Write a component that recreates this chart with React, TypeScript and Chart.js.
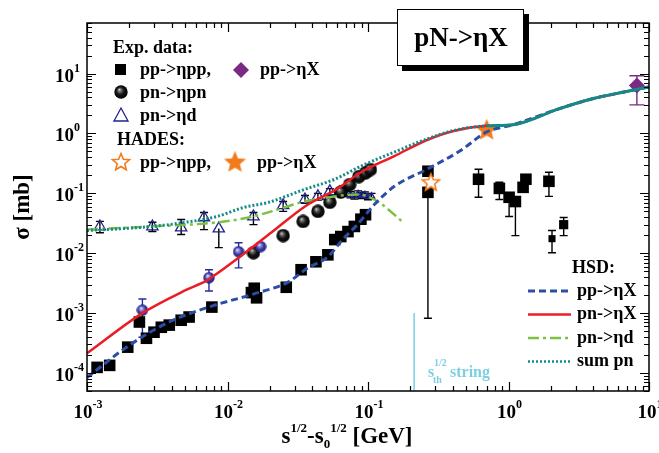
import React, { useEffect, useRef } from 'react';
import { Chart, registerables } from 'chart.js';
Chart.register(...registerables);

const X_MIN = 1e-3;
const X_MAX = 10;
const Y_MIN = 5e-5;
const Y_MAX = 70;

// ---- Experimental data ----
// pp -> eta pp (black squares)
const ppEtaPP_x = [1.18e-3, 1.45e-3, 1.95e-3, 2.36e-3, 2.65e-3, 3.0e-3, 3.38e-3, 3.85e-3, 4.68e-3, 5.33e-3, 7.74e-3, 1.48e-2, 1.55e-2, 1.61e-2, 2.62e-2, 3.34e-2, 4.26e-2, 5.18e-2, 5.8e-2, 6.4e-2, 7.2e-2, 8.0e-2, 8.9e-2, 9.6e-2, 0.267, 0.267, 0.612, 0.861, 1.01, 1.12, 1.27, 1.33, 1.94, 2.04, 2.47];
const ppEtaPP_y = [1.24e-4, 1.34e-4, 2.7e-4, 7.1e-4, 3.8e-4, 4.8e-4, 5.8e-4, 6.3e-4, 7.6e-4, 8.6e-4, 1.26e-3, 2.2e-3, 2.6e-3, 1.8e-3, 2.7e-3, 5.3e-3, 7.2e-3, 9.4e-3, 1.69e-2, 1.9e-2, 2.3e-2, 2.8e-2, 3.7e-2, 4.4e-2, 0.234, 0.104, 0.172, 0.121, 0.086, 0.073, 0.126, 0.172, 0.159, 0.0175, 0.030];
const ppEtaPP_lo = [null, null, null, null, null, null, null, null, null, null, null, null, null, null, null, null, null, null, null, null, null, null, null, null, null, 8.2e-4, 0.086, 0.079, 0.041, 0.0197, null, null, 0.089, 0.0102, 0.0197];
const ppEtaPP_hi = [null, null, null, null, null, null, null, null, null, null, null, null, null, null, null, null, null, null, null, null, null, null, null, null, null, null, 0.253, 0.153, null, null, null, null, 0.225, 0.024, 0.0395];

// pn -> eta pn (black balls)
const pnEtaPN_x = [1.53e-2, 2.49e-2, 3.45e-2, 4.4e-2, 5.35e-2, 6.4e-2, 7.4e-2, 8.6e-2, 9.6e-2, 0.104];
const pnEtaPN_y = [1.02e-2, 1.97e-2, 3.4e-2, 5.0e-2, 7.1e-2, 0.105, 0.14, 0.19, 0.22, 0.25];

// pn -> eta pn (blue balls, with errors)
const pnEtaPN2_x = [2.48e-3, 7.38e-3, 1.2e-2, 1.72e-2];
const pnEtaPN2_y = [1.12e-3, 3.9e-3, 1.06e-2, 1.29e-2];
const pnEtaPN2_lo = [3.95e-4, 2.34e-3, 5.7e-3, 1.15e-2];
const pnEtaPN2_hi = [1.72e-3, 5.3e-3, 1.5e-2, 1.45e-2];

// pn -> eta d (open triangles)
const pnEtaD_x = [1.235e-3, 2.92e-3, 4.68e-3, 6.8e-3, 8.67e-3, 1.53e-2, 2.49e-2, 3.56e-2, 4.4e-2, 5.35e-2, 6.3e-2, 7.0e-2, 7.5e-2, 8.0e-2, 8.5e-2, 9.0e-2, 9.5e-2, 0.1, 0.106];
const pnEtaD_y = [2.79e-2, 2.79e-2, 2.68e-2, 3.95e-2, 2.58e-2, 4.1e-2, 6.3e-2, 7.9e-2, 8.9e-2, 0.108, 0.104, 0.1, 0.095, 0.09, 0.098, 0.092, 0.095, 0.088, 0.09];
const pnEtaD_lo = [2.2e-2, 2.3e-2, 2.05e-2, 2.48e-2, 1.24e-2, 3.0e-2, 5.0e-2, 6.8e-2, 7.7e-2, 0.094, 0.092, 0.088, 0.084, 0.08, 0.087, 0.082, 0.085, 0.078, 0.08];
const pnEtaD_hi = [3.4e-2, 3.3e-2, 3.66e-2, 4.8e-2, null, 4.8e-2, 7.3e-2, 9.2e-2, 0.1, 0.12, 0.116, 0.112, 0.107, 0.1, 0.11, 0.103, 0.106, 0.099, 0.1];

// pp -> eta X (diamond)
const ppEtaX_x = [8.2];
const ppEtaX_y = [6.3];
const ppEtaX_lo = [3.0];
const ppEtaX_hi = [9.2];

// HADES
const hadesPP_x = [0.28];
const hadesPP_y = [0.153];
const hadesX_x = [0.70];
const hadesX_y = [1.15];

// ---- HSD curves ----
const hsdPP_x = [1e-3, 2.0e-3, 3.85e-3, 7.74e-3, 1.53e-2, 2.7e-2, 3.74e-2, 5.18e-2, 6.6e-2, 8.4e-2, 0.111, 0.154, 0.263, 0.45, 0.70, 1.08, 2.28, 3.96, 6.78, 10];
const hsdPP_y = [8.4e-5, 2.9e-4, 7.1e-4, 1.31e-3, 2.08e-3, 3.3e-3, 5.7e-3, 8.7e-3, 1.69e-2, 3.0e-2, 6.5e-2, 0.131, 0.253, 0.508, 1.06, 1.40, 2.58, 3.80, 4.98, 6.0];

const hsdPN_x = [1e-3, 2.48e-3, 5.08e-3, 7.03e-3, 1.2e-2, 2.05e-2, 3.56e-2, 6.1e-2, 8.9e-2, 0.154, 0.263, 0.407, 0.70, 1.08, 2.28, 3.96, 6.78, 10];
const hsdPN_y = [2.13e-4, 1.0e-3, 2.44e-3, 3.45e-3, 8.4e-3, 2.21e-2, 6.05e-2, 0.121, 0.225, 0.419, 0.778, 1.10, 1.34, 1.40, 2.58, 3.80, 4.98, 6.0];

const hsdPND_x = [1e-3, 2.78e-3, 8.26e-3, 1.41e-2, 2.30e-2, 3.34e-2, 5.8e-2, 8.4e-2, 0.117, 0.175];
const hsdPND_y = [2.48e-2, 2.79e-2, 3.26e-2, 3.95e-2, 5.4e-2, 7.06e-2, 8.9e-2, 9.6e-2, 7.3e-2, 3.4e-2];

const hsdSum_x = [1e-3, 2.87e-3, 4.91e-3, 8.4e-3, 1.30e-2, 1.95e-2, 3.56e-2, 5.8e-2, 8.9e-2, 0.154, 0.263, 0.407, 0.70, 1.08, 2.28, 3.96, 6.78, 10];
const hsdSum_y = [2.39e-2, 2.79e-2, 3.26e-2, 4.1e-2, 5.8e-2, 7.06e-2, 0.117, 0.172, 0.284, 0.489, 0.81, 1.12, 1.34, 1.40, 2.58, 3.80, 4.98, 6.0];

// string threshold
const sthString_x = [0.213, 0.213];
const sthString_y = [1e-3, 5e-5];

// tick labels
const xTickExp = [-3, -2, -1, 0, 1];
const yTickExp = [-4, -3, -2, -1, 0, 1];

const pts = (xs: number[], ys: number[]) => xs.map((x, i) => ({ x, y: ys[i] }));

const FONT = "'Liberation Serif','Times New Roman',serif";
const C_BLUE = '#2d4ea6';
const C_RED = '#ec1c24';
const C_GREEN = '#7cc242';
const C_TEAL = '#138a8a';
const C_NAVY = '#1f2290';
const C_PURPLE = '#7a2a84';
const C_ORANGE = '#f27b1c';
const C_STH = '#7ccfe2';

const DASH_PP = [7, 4];
const DASH_PND = [11, 4, 3, 4];
const DASH_SUM = [2, 2];

function makeBall(d: number, stops: [number, string][]) {
  const c = document.createElement('canvas');
  c.width = d; c.height = d;
  const g = c.getContext('2d')!;
  const r = d / 2;
  const grad = g.createRadialGradient(r * 0.75, r * 0.65, 0, r, r, r);
  stops.forEach(([o, col]) => grad.addColorStop(o, col));
  g.fillStyle = grad;
  g.beginPath();
  g.arc(r, r, r - 0.3, 0, Math.PI * 2);
  g.fill();
  return c;
}

function makeStar(R: number, fill: string, stroke: string) {
  const c = document.createElement('canvas');
  const d = Math.ceil(2 * R + 4);
  c.width = d; c.height = d;
  const g = c.getContext('2d')!;
  const cx = d / 2, cy = d / 2 + 0.5;
  g.beginPath();
  for (let i = 0; i < 10; i++) {
    const a = -Math.PI / 2 + (i * Math.PI) / 5;
    const rr = i % 2 ? R * 0.45 : R;
    const px = cx + rr * Math.cos(a), py = cy + rr * Math.sin(a);
    if (i === 0) g.moveTo(px, py); else g.lineTo(px, py);
  }
  g.closePath();
  g.fillStyle = fill;
  g.fill();
  g.strokeStyle = stroke;
  g.lineWidth = 1.6;
  g.lineJoin = 'miter';
  g.stroke();
  return c;
}

type Part = { t: string; size: number; dy: number; color?: string };
function richWidth(ctx: CanvasRenderingContext2D, parts: Part[]) {
  let w = 0;
  parts.forEach(p => { ctx.font = `bold ${p.size}px ${FONT}`; w += ctx.measureText(p.t).width; });
  return w;
}
function drawRich(ctx: CanvasRenderingContext2D, x: number, y: number, parts: Part[], color: string) {
  let cx = x;
  ctx.textAlign = 'left';
  ctx.textBaseline = 'alphabetic';
  parts.forEach(p => {
    ctx.font = `bold ${p.size}px ${FONT}`;
    ctx.fillStyle = p.color || color;
    ctx.fillText(p.t, cx, y + p.dy);
    cx += ctx.measureText(p.t).width;
  });
}

export default function App() {
  const ref = useRef<HTMLCanvasElement>(null);
  useEffect(() => {
    document.body.style.margin = '0';
    const blackBall = makeBall(14, [[0, '#e0e0e0'], [0.22, '#707070'], [0.55, '#151515'], [1, '#000']]);
    const blueBall = makeBall(12, [[0, '#f4f4ff'], [0.25, '#9a9ae0'], [0.6, '#3a3aa8'], [1, '#1c1c70']]);
    const starOpen = makeStar(9, '#ffffff', C_ORANGE);
    const starFull = makeStar(9.5, C_ORANGE, C_ORANGE);

    const decor = {
      id: 'decor',
      beforeDatasetsDraw(chart: any) {
        const ctx = chart.ctx as CanvasRenderingContext2D;
        const xs = chart.scales.x, ys = chart.scales.y;
        chart.data.datasets.forEach((ds: any) => {
          if (!ds.errLo) return;
          ctx.save();
          ctx.strokeStyle = ds.errColor;
          ctx.lineWidth = 1.4;
          ds.data.forEach((p: any, j: number) => {
            const px = xs.getPixelForValue(p.x);
            const pc = ys.getPixelForValue(p.y);
            [ds.errLo[j], ds.errHi[j]].forEach((v: number | null) => {
              if (v == null) return;
              const py = ys.getPixelForValue(v);
              ctx.beginPath();
              ctx.moveTo(px, pc); ctx.lineTo(px, py);
              ctx.moveTo(px - ds.capW, py); ctx.lineTo(px + ds.capW, py);
              ctx.stroke();
            });
          });
          ctx.restore();
        });
      },
      afterDraw(chart: any) {
        const ctx = chart.ctx as CanvasRenderingContext2D;
        const xs = chart.scales.x, ys = chart.scales.y;
        const a = chart.chartArea;
        ctx.save();
        // frame
        ctx.strokeStyle = '#000';
        ctx.lineWidth = 1.5;
        ctx.strokeRect(a.left, a.top, a.right - a.left, a.bottom - a.top);
        // ticks
        ctx.lineWidth = 1.2;
        ctx.beginPath();
        for (let d = -3; d <= 1; d++) {
          for (let m = 1; m <= 9; m++) {
            const v = m * Math.pow(10, d);
            if (v < X_MIN * 0.999 || v > X_MAX * 1.001) continue;
            const px = Math.round(xs.getPixelForValue(v)) + 0.5;
            const L = m === 1 ? 9 : 5;
            ctx.moveTo(px, a.bottom); ctx.lineTo(px, a.bottom - L);
            ctx.moveTo(px, a.top); ctx.lineTo(px, a.top + L);
          }
        }
        for (let d = -5; d <= 1; d++) {
          for (let m = 1; m <= 9; m++) {
            const v = m * Math.pow(10, d);
            if (v < Y_MIN * 0.999 || v > Y_MAX * 1.001) continue;
            const py = Math.round(ys.getPixelForValue(v)) + 0.5;
            const L = m === 1 ? 9 : 5;
            ctx.moveTo(a.left, py); ctx.lineTo(a.left + L, py);
            ctx.moveTo(a.right, py); ctx.lineTo(a.right - L, py);
          }
        }
        ctx.stroke();

        // tick labels
        xTickExp.forEach(e => {
          const px = xs.getPixelForValue(Math.pow(10, e));
          const parts: Part[] = [{ t: '10', size: 19, dy: 0 }, { t: String(e), size: 12, dy: -10 }];
          const w = richWidth(ctx, parts);
          drawRich(ctx, px - w / 2 + 1, 418, parts, '#000');
        });
        yTickExp.forEach(e => {
          const py = ys.getPixelForValue(Math.pow(10, e));
          ctx.font = `bold 19px ${FONT}`;
          const w10 = ctx.measureText('10').width;
          drawRich(ctx, 74 - w10, py + 8, [{ t: '10', size: 19, dy: 0 }, { t: String(e), size: 12, dy: -10 }], '#000');
        });

        // y title
        ctx.save();
        ctx.translate(23, 207);
        ctx.rotate(-Math.PI / 2);
        ctx.font = `bold 23px ${FONT}`;
        ctx.fillStyle = '#000';
        ctx.textAlign = 'center';
        ctx.textBaseline = 'middle';
        ctx.fillText('σ [mb]', 0, 0);
        ctx.restore();

        // x title
        const xt: Part[] = [
          { t: 's', size: 23, dy: 0 }, { t: '1/2', size: 13, dy: -11 }, { t: '-s', size: 23, dy: 0 },
          { t: '0', size: 13, dy: 5 }, { t: '1/2', size: 13, dy: -11 }, { t: ' [GeV]', size: 23, dy: 0 },
        ];
        const xw = richWidth(ctx, xt);
        drawRich(ctx, 347 - xw / 2, 443, xt, '#000');

        // s_th label
        drawRich(ctx, 428, 377, [{ t: 's', size: 16, dy: 0 }], C_STH);
        drawRich(ctx, 433, 383, [{ t: 'th', size: 10, dy: 0 }], C_STH);
        drawRich(ctx, 434, 366, [{ t: '1/2', size: 10, dy: 0 }], C_STH);
        drawRich(ctx, 450, 377, [{ t: 'string', size: 16, dy: 0 }], C_STH);

        // title box
        ctx.fillStyle = '#000';
        ctx.fillRect(402, 14, 127, 57);
        ctx.fillStyle = '#fff';
        ctx.fillRect(397, 9, 127, 57);
        ctx.strokeStyle = '#000';
        ctx.lineWidth = 1;
        ctx.strokeRect(397.5, 9.5, 126, 56);
        ctx.fillStyle = '#000';
        ctx.font = `bold 27px ${FONT}`;
        ctx.textAlign = 'center';
        ctx.textBaseline = 'middle';
        ctx.fillText('pN->ηX', 461, 39);

        // experimental legend
        const txt = (s: string, x: number, y: number) => {
          ctx.font = `bold 18px ${FONT}`;
          ctx.fillStyle = '#000';
          ctx.textAlign = 'left';
          ctx.textBaseline = 'middle';
          ctx.fillText(s, x, y);
        };
        txt('Exp. data:', 113, 48);
        ctx.fillStyle = '#000';
        ctx.fillRect(115, 64, 11, 11);
        txt('pp->ηpp,', 140, 70);
        ctx.fillStyle = C_PURPLE;
        ctx.beginPath();
        ctx.moveTo(241, 62); ctx.lineTo(249, 70); ctx.lineTo(241, 78); ctx.lineTo(233, 70); ctx.closePath();
        ctx.fill();
        txt('pp->ηX', 260, 70);
        ctx.drawImage(blackBall, 121 - 7, 92 - 7);
        txt('pn->ηpn', 140, 93);
        ctx.strokeStyle = C_NAVY;
        ctx.lineWidth = 1.3;
        ctx.beginPath();
        ctx.moveTo(121, 108); ctx.lineTo(128, 121); ctx.lineTo(114, 121); ctx.closePath();
        ctx.stroke();
        txt('pn->ηd', 140, 116);
        txt('HADES:', 117, 140);
        ctx.drawImage(starOpen, 121 - starOpen.width / 2, 162 - starOpen.height / 2);
        txt('pp->ηpp,', 140, 163);
        ctx.drawImage(starFull, 235 - starFull.width / 2, 162 - starFull.height / 2);
        txt('pp->ηX', 257, 163);

        // HSD legend
        txt('HSD:', 572, 268);
        const hsd: [string, string, number[], number][] = [
          ['pp->ηX', C_BLUE, DASH_PP, 3],
          ['pn->ηX', C_RED, [], 2.5],
          ['pn->ηd', C_GREEN, DASH_PND, 2.5],
          ['sum pn', C_TEAL, DASH_SUM, 2.5],
        ];
        hsd.forEach(([lab, col, dash, lw], i) => {
          const y = 291 + i * 23.5;
          ctx.strokeStyle = col;
          ctx.lineWidth = lw;
          ctx.setLineDash(dash);
          ctx.beginPath();
          ctx.moveTo(528, y); ctx.lineTo(571, y);
          ctx.stroke();
          ctx.setLineDash([]);
          txt(lab, 577, y);
        });
        ctx.restore();
      },
    };

    const curve = (label: string, xs: number[], ys: number[], color: string, dash: number[], width: number) => ({
      label, data: pts(xs, ys), showLine: true, borderColor: color, borderWidth: width, borderDash: dash,
      pointRadius: 0, fill: false, cubicInterpolationMode: 'monotone' as const,
    });

    const sumCurve: any = curve('sum pn', hsdSum_x, hsdSum_y, C_TEAL, DASH_SUM, 3);
    sumCurve.segment = { borderDash: (c: any) => (c.p0.parsed.x >= 0.69 ? [] : DASH_SUM) };

    const chart = new Chart(ref.current!, {
      type: 'scatter',
      data: {
        datasets: [
          sumCurve,
          curve('pn->ηX', hsdPN_x, hsdPN_y, C_RED, [], 2.5),
          curve('pp->ηX', hsdPP_x, hsdPP_y, C_BLUE, DASH_PP, 3),
          curve('pn->ηd', hsdPND_x, hsdPND_y, C_GREEN, DASH_PND, 2.5),
          { label: 'sth', data: pts(sthString_x, sthString_y), showLine: true, borderColor: C_STH, borderWidth: 1.5, pointRadius: 0 },
          { label: 'HADES pp->ηX', data: pts(hadesX_x, hadesX_y), pointStyle: starFull as any, pointRadius: 9 },
          { label: 'HADES pp->ηpp', data: pts(hadesPP_x, hadesPP_y), pointStyle: starOpen as any, pointRadius: 9 },
          { label: 'pp->ηX', data: pts(ppEtaX_x, ppEtaX_y), pointStyle: 'rectRot', pointRadius: 8, backgroundColor: C_PURPLE, borderColor: C_PURPLE, borderWidth: 0,
            errLo: ppEtaX_lo, errHi: ppEtaX_hi, errColor: C_PURPLE, capW: 7.5 } as any,
          { label: 'pn->ηpn (b)', data: pts(pnEtaPN2_x, pnEtaPN2_y), pointStyle: blueBall as any, pointRadius: 6,
            errLo: pnEtaPN2_lo, errHi: pnEtaPN2_hi, errColor: '#2a2aa0', capW: 4 } as any,
          { label: 'pn->ηpn', data: pts(pnEtaPN_x, pnEtaPN_y), pointStyle: blackBall as any, pointRadius: 7 },
          { label: 'pn->ηd', data: pts(pnEtaD_x, pnEtaD_y), pointStyle: 'triangle',
            pointRadius: (c: any) => (c.raw && c.raw.x > 0.065 ? 3.5 : 6.5),
            backgroundColor: 'rgba(255,255,255,0)', borderColor: C_NAVY, borderWidth: 1.3,
            errLo: pnEtaD_lo, errHi: pnEtaD_hi, errColor: '#000', capW: 4 } as any,
          { label: 'pp->ηpp', data: pts(ppEtaPP_x, ppEtaPP_y), pointStyle: 'rect',
            pointRadius: (c: any) => (c.raw && c.raw.x > 2.2 ? 6.5 : c.raw && c.raw.x > 2 ? 5 : 8.2),
            backgroundColor: '#000', borderColor: '#000', borderWidth: 0,
            errLo: ppEtaPP_lo, errHi: ppEtaPP_hi, errColor: '#000', capW: 4 } as any,
        ],
      },
      options: {
        responsive: false,
        animation: false,
        devicePixelRatio: 1,
        layout: { padding: { left: 87, right: 4, top: 23, bottom: 62 } },
        plugins: { legend: { display: false }, tooltip: { enabled: false } },
        scales: {
          x: { type: 'logarithmic', min: X_MIN, max: X_MAX, display: false },
          y: { type: 'logarithmic', min: Y_MIN, max: Y_MAX, display: false },
        },
      } as any,
      plugins: [decor],
    });
    return () => chart.destroy();
  }, []);
  return (
    <div style={{ position: 'fixed', left: 0, top: 0, width: 659, height: 453, background: '#fff' }}>
      <canvas ref={ref} width={659} height={453} style={{ width: 659, height: 453, display: 'block' }} />
    </div>
  );
}
